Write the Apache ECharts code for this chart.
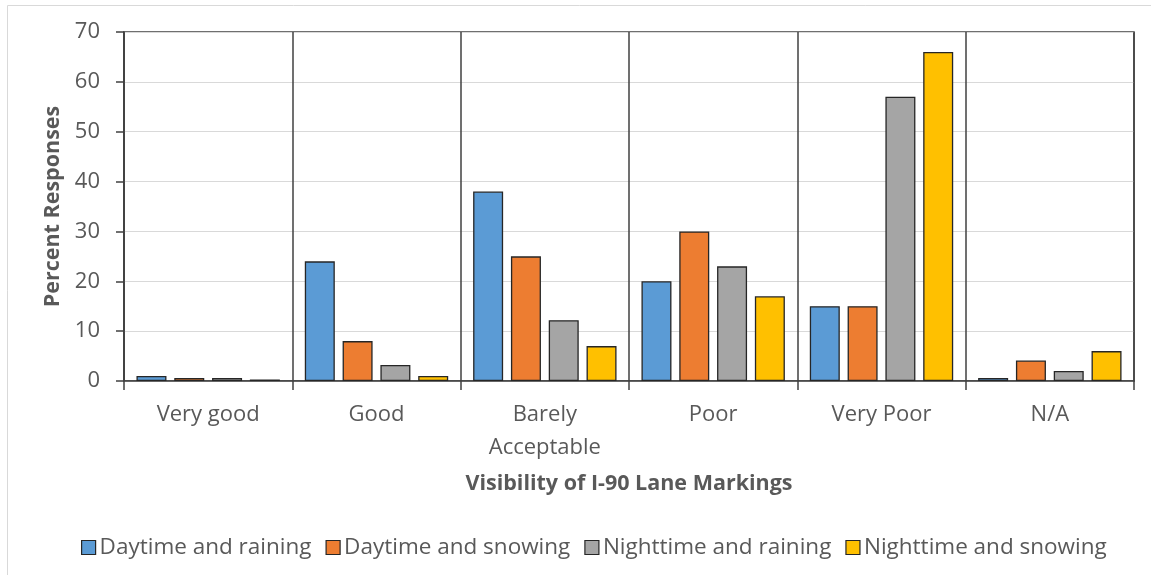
<!DOCTYPE html>
<html>
<head>
<meta charset="utf-8">
<script src="https://cdn.jsdelivr.net/npm/echarts@6/dist/echarts.min.js"></script>
<style>html,body{margin:0;padding:0;background:#fff;}#c{width:1151px;height:575px;}</style>
</head>
<body>
<div id="c"></div>
<script>
const categories = ['Very good', 'Good', 'Barely\nAcceptable', 'Poor', 'Very Poor', 'N/A'];
const seriesNames = ['Daytime and raining', 'Daytime and snowing', 'Nighttime and raining', 'Nighttime and snowing'];
const dayRain = [1.0, 24, 38, 20, 15, 0.6];
const daySnow = [0.6, 8, 25, 30, 15, 4.1];
const nightRain = [0.6, 3.2, 12.2, 23, 57, 2];
const nightSnow = [0.3, 1.0, 7, 17, 66, 6];
const yTicks = [0, 10, 20, 30, 40, 50, 60, 70];
const colors = ['#5b9bd5', '#ed7d31', '#a5a5a5', '#ffc000'];

const font = '"Open Sans", "Noto Sans", sans-serif';
const txt = '#595959';
const values = [dayRain, daySnow, nightRain, nightSnow];

const chart = echarts.init(document.getElementById('c'), null, {renderer: 'canvas'});
chart.setOption({
  animation: false,
  color: colors,
  graphic: [{
    type: 'rect', shape: {x: 7.5, y: 5.5, width: 1160, height: 600},
    style: {fill: 'none', stroke: '#d9d9d9', lineWidth: 1}, silent: true
  }],
  grid: {left: 124, right: 17, top: 32, bottom: 194, show: true, borderColor: '#404040', borderWidth: 1.5, backgroundColor: 'transparent'},
  legend: {
    top: 531, left: 76, itemWidth: 14, itemHeight: 14, itemGap: 14,
    icon: 'rect',
    textStyle: {fontFamily: font, fontSize: 22.5, color: txt, padding: [0, 0, 0, -1]},
    itemStyle: {borderColor: '#262626', borderWidth: 1.2},
    data: seriesNames
  },
  xAxis: {
    type: 'category', data: categories,
    name: 'Visibility of I-90 Lane Markings', nameLocation: 'middle', nameGap: 92,
    nameTextStyle: {fontFamily: font, fontSize: 21.5, fontWeight: 'bold', color: txt},
    axisLine: {show: true, lineStyle: {color: '#404040', width: 1.5}},
    axisTick: {show: true, length: 9, lineStyle: {color: '#404040', width: 1.5}},
    splitLine: {show: true, lineStyle: {color: '#404040', width: 1.5}},
    axisLabel: {fontFamily: font, fontSize: 22, color: txt, margin: 17, lineHeight: 33}
  },
  yAxis: {
    type: 'value', min: 0, max: 70, interval: 10,
    name: 'Percent Responses', nameLocation: 'middle', nameGap: 60, nameRotate: 90,
    nameTextStyle: {fontFamily: font, fontSize: 21.5, fontWeight: 'bold', color: txt},
    axisLine: {show: true, lineStyle: {color: '#404040', width: 1.5}},
    axisTick: {show: true, length: 8, inside: false, lineStyle: {color: '#404040', width: 1.5}},
    splitLine: {show: true, lineStyle: {color: '#d9d9d9', width: 1.2}},
    axisLabel: {fontFamily: font, fontSize: 22, color: txt, margin: 24,
      formatter: v => yTicks.includes(v) ? String(v) : ''}
  },
  series: seriesNames.map((n, i) => ({
    name: n, type: 'bar', data: values[i], barWidth: 30, barGap: '26%',
    itemStyle: {color: colors[i], borderColor: '#262626', borderWidth: 1.3}
  }))
});
</script>
</body>
</html>
